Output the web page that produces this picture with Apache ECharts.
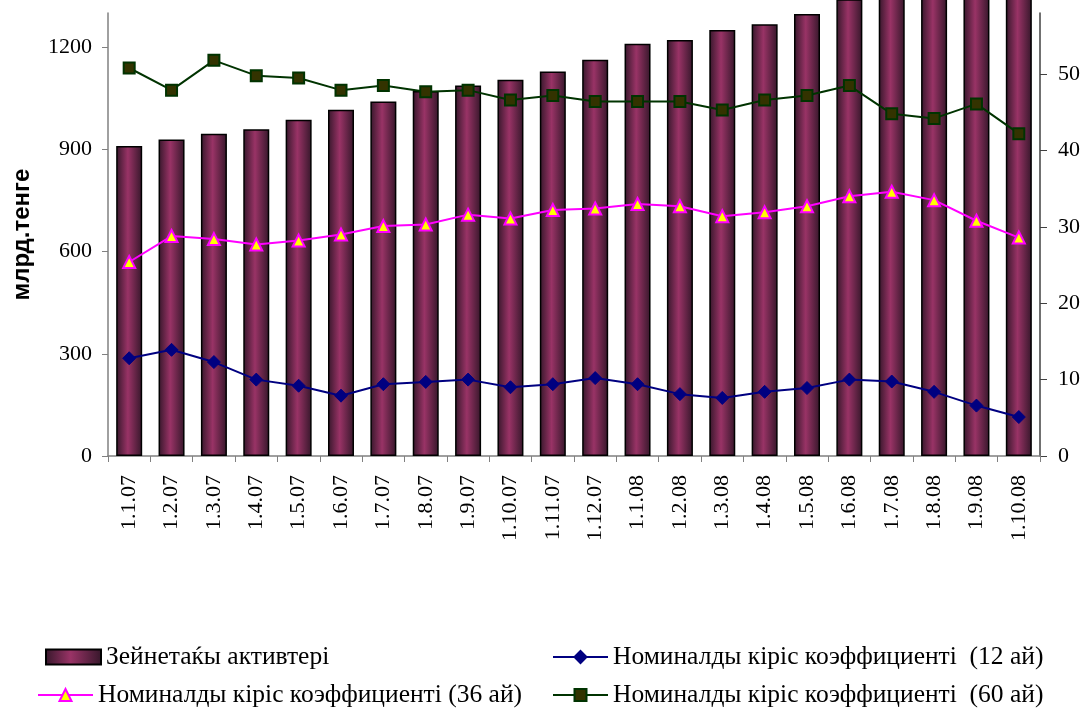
<!DOCTYPE html>
<html>
<head>
<meta charset="utf-8">
<style>
  html, body { margin: 0; padding: 0; background: #fff; }
  #chart { width: 1083px; height: 708px; }
</style>
<script src="https://cdn.jsdelivr.net/npm/echarts@6/dist/echarts.min.js"></script>
</head>
<body>
<div id="chart"></div>
<script>
// данные
var categories = ["1.1.07", "1.2.07", "1.3.07", "1.4.07", "1.5.07", "1.6.07", "1.7.07", "1.8.07",
  "1.9.07", "1.10.07", "1.11.07", "1.12.07", "1.1.08", "1.2.08", "1.3.08", "1.4.08",
  "1.5.08", "1.6.08", "1.7.08", "1.8.08", "1.9.08", "1.10.08"];
var assets = [910, 929, 946, 959, 987, 1016, 1040, 1071, 1087, 1104, 1128, 1163,
  1210, 1221, 1250, 1267, 1297, 1340, 1370, 1390, 1410, 1430];
var yield12 = [12.8, 13.9, 12.3, 10.0, 9.2, 7.9, 9.4, 9.7, 10.0, 9.0, 9.4, 10.2,
  9.4, 8.1, 7.6, 8.4, 8.9, 10.0, 9.75, 8.4, 6.6, 5.1];
var yield36 = [25.4, 28.8, 28.4, 27.7, 28.2, 29.0, 30.1, 30.3, 31.6, 31.1, 32.2, 32.4,
  33.0, 32.7, 31.4, 31.9, 32.7, 34.0, 34.6, 33.5, 30.8, 28.6];
var yield60 = [50.8, 47.9, 51.8, 49.8, 49.5, 47.9, 48.5, 47.7, 47.9, 46.6, 47.2, 46.4,
  46.4, 46.4, 45.3, 46.6, 47.2, 48.5, 44.8, 44.2, 46.1, 42.2];

var names = ["Зейнетаќы активтері", "Номиналды кіріс коэффициенті  (12 ай)",
  "Номиналды кіріс коэффициенті (36 ай)", "Номиналды кіріс коэффициенті  (60 ай)"];

(function() {
  var myChart = echarts.init(document.getElementById("chart"));
  var serif = "'Liberation Serif', 'Times New Roman', serif";

  var barColor = new echarts.graphic.LinearGradient(0, 0, 1, 0, [
    { offset: 0, color: "#35172a" },
    { offset: 0.45, color: "#993366" },
    { offset: 1, color: "#35172a" }
  ]);

  function legendAt(name, left, top, icon) {
    var l = {
      data: [name],
      left: left,
      top: top,
      padding: 0,
      itemWidth: 55,
      itemHeight: 15,
      selectedMode: false,
      textStyle: { fontFamily: serif, fontSize: 25.5, color: "#000" }
    };
    if (icon) l.icon = icon;
    return l;
  }

  // просто число без разделителя тысяч
  function plain(v) {
    return String(v);
  }

  var option = {
    animation: false,
    legend: [
      legendAt(names[0], 45, 644, "rect"),
      legendAt(names[1], 552, 644),
      legendAt(names[2], 37, 682),
      legendAt(names[3], 552, 682)
    ],
    grid: {
      left: 108,
      right: 43,
      top: 13,
      bottom: 252,
      outerBoundsMode: "none"
    },
    xAxis: {
      type: "category",
      data: categories,
      axisLine: { lineStyle: { color: "#808080", width: 1.5 } },
      axisTick: { show: true, length: 6, lineStyle: { color: "#808080" } },
      axisLabel: {
        rotate: 90,
        margin: 19,
        fontFamily: serif,
        fontSize: 22,
        color: "#000"
      }
    },
    yAxis: [
      {
        type: "value",
        min: 0,
        max: 1300,
        interval: 300,
        name: "млрд.тенге",
        nameLocation: "middle",
        nameRotate: 90,
        nameGap: 74,
        nameTextStyle: {
          fontFamily: "'Liberation Sans', Arial, sans-serif",
          fontWeight: "bold",
          fontSize: 24,
          color: "#000"
        },
        axisLine: { show: true, lineStyle: { color: "#808080", width: 1.5 } },
        axisTick: { show: true, length: 6, lineStyle: { color: "#808080" } },
        splitLine: { show: false },
        axisLabel: {
          showMaxLabel: false,
          formatter: plain,
          margin: 16,
          fontFamily: serif,
          fontSize: 22,
          color: "#000"
        }
      },
      {
        type: "value",
        min: 0,
        max: 58,
        interval: 10,
        position: "right",
        axisLine: { show: true, lineStyle: { color: "#404040", width: 1.5 } },
        axisTick: { show: true, length: 7, lineStyle: { color: "#404040" } },
        splitLine: { show: false },
        axisLabel: {
          showMaxLabel: false,
          margin: 18,
          fontFamily: serif,
          fontSize: 22,
          color: "#000"
        }
      }
    ],
    series: [
      {
        name: names[0],
        type: "bar",
        data: assets,
        barWidth: 26,
        clip: false,
        itemStyle: {
          color: barColor,
          borderColor: "#000",
          borderWidth: 1.5
        }
      },
      {
        name: names[1],
        type: "line",
        yAxisIndex: 1,
        data: yield12,
        symbol: "diamond",
        symbolSize: 13,
        lineStyle: { color: "#000080", width: 2 },
        itemStyle: { color: "#000080", borderColor: "#000080", borderWidth: 1 }
      },
      {
        name: names[2],
        type: "line",
        yAxisIndex: 1,
        data: yield36,
        symbol: "triangle",
        symbolSize: 12,
        lineStyle: { color: "#ff00ff", width: 2 },
        itemStyle: { color: "#ffff00", borderColor: "#ff00ff", borderWidth: 2 }
      },
      {
        name: names[3],
        type: "line",
        yAxisIndex: 1,
        data: yield60,
        symbol: "rect",
        symbolSize: 11,
        lineStyle: { color: "#003300", width: 2 },
        itemStyle: { color: "#333300", borderColor: "#003300", borderWidth: 2 }
      }
    ]
  };

  myChart.setOption(option);
  window.addEventListener("resize", function() {
    myChart.resize();
  });
})();
</script>
</body>
</html>
